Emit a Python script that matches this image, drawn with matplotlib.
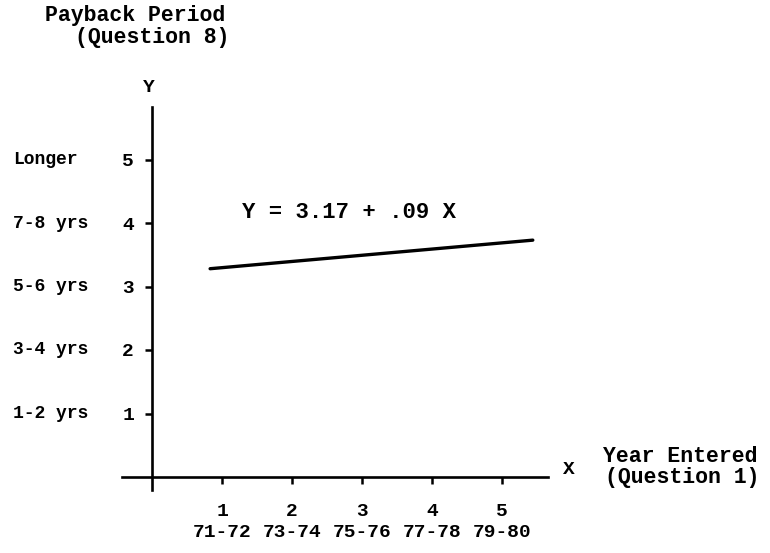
import matplotlib
matplotlib.use("Agg")
import matplotlib.pyplot as plt

# values
x_ticks = [1, 2, 3, 4, 5]
year_labels = ["71-72", "73-74", "75-76", "77-78", "79-80"]
y_ticks = [1, 2, 3, 4, 5]
payback_labels = ["1-2 yrs", "3-4 yrs", "5-6 yrs", "7-8 yrs", "Longer"]
line_x = [0.83, 5.44]
line_y = [3.28, 3.73]
equation = "Y = 3.17 + .09 X"

plt.rcParams["font.family"] = ["Liberation Mono", "DejaVu Sans Mono"]
plt.rcParams["font.weight"] = "bold"

fig = plt.figure(figsize=(7.7, 5.53), dpi=100)
ax = fig.add_axes([0, 0, 1, 1])

# pixel mapping: x=0 at 152px, 70px/unit ; y=0 at 477px from top, 63.5px/unit
ax.set_xlim(-152 / 70, (770 - 152) / 70)
ax.set_ylim(-76 / 63.5, (553 - 76) / 63.5)

for s in ["top", "right"]:
    ax.spines[s].set_visible(False)
ax.spines["left"].set_position(("data", 0))
ax.spines["bottom"].set_position(("data", 0))
ax.spines["left"].set_bounds(-0.2, 5.82)
ax.spines["bottom"].set_bounds(-0.43, 5.66)
ax.spines["left"].set_linewidth(1.9)
ax.spines["bottom"].set_linewidth(1.9)

ax.set_xticks(x_ticks, [f"{t}\n{y}" for t, y in zip(x_ticks, year_labels)])
ax.set_yticks(y_ticks, [str(t) for t in y_ticks])
ax.tick_params(axis="x", direction="out", length=5, width=1.8, pad=14, labelsize=14)
ax.tick_params(axis="y", direction="out", length=5, width=1.8, pad=8, labelsize=14)
for lab in ax.get_xticklabels():
    lab.set_linespacing(1.3)

ax.plot(line_x, line_y, color="black", linewidth=2.4, solid_capstyle="round")

for y, lab in zip(y_ticks, payback_labels):
    ax.text(-1.99, y, lab, ha="left", va="center", fontsize=13)

ax.text(1.29, 4.16, equation, ha="left", va="center", fontsize=16)
ax.text(-0.05, 6.13, "Y", ha="center", va="center", fontsize=14)
ax.text(5.95, 0.12, "X", ha="center", va="center", fontsize=14)

fig.text(45 / 770, 1 - 15 / 553, "Payback Period", ha="left", va="center", fontsize=15.5)
fig.text(75 / 770, 1 - 38 / 553, "(Question 8)", ha="left", va="center", fontsize=15.5)
fig.text(603 / 770, 1 - 456 / 553, "Year Entered", ha="left", va="center", fontsize=15.5)
fig.text(605 / 770, 1 - 478 / 553, "(Question 1)", ha="left", va="center", fontsize=15.5)

fig.savefig("out.png", dpi=100)
